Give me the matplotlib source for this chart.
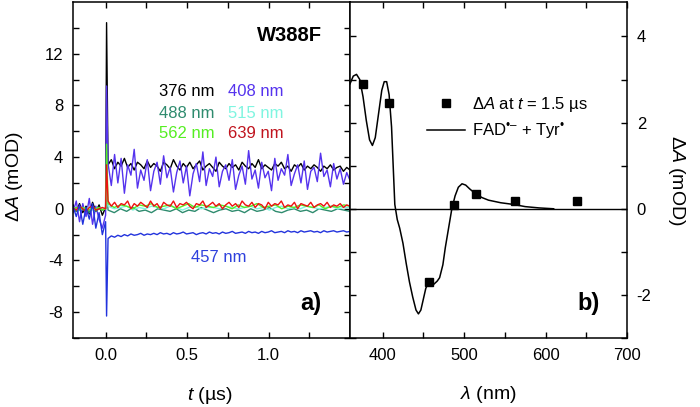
import numpy as np
import matplotlib
matplotlib.use("Agg")
import matplotlib.pyplot as plt
from matplotlib.lines import Line2D

plt.rcParams['font.family'] = ['Liberation Sans', 'DejaVu Sans']
plt.rcParams['mathtext.fontset'] = 'custom'
plt.rcParams['mathtext.rm'] = 'Liberation Sans'
plt.rcParams['mathtext.it'] = 'Liberation Sans:italic'
plt.rcParams['mathtext.bf'] = 'Liberation Sans:bold'
plt.rcParams['axes.unicode_minus'] = False

# ---- panel a) : kinetic traces (pre-trigger, spike, post-trigger) ----
a376_pre = [0.3, -0.2, 0.4, -0.3, 0.2, -0.4, 0.5, -0.2, 0.3, -0.5, 0.1]
a376_peak = 14.4
a376_post = [3.4, 3.8, 3.1, 3.6, 3.3, 3.9, 3.2, 3.5, 3.0, 3.6, 3.4, 3.1, 3.7, 3.2, 3.5, 3.3, 2.9, 3.6, 3.4, 3.1,
             3.8, 3.3, 3.0, 3.5, 3.2, 3.6, 3.1, 3.4, 3.7, 3.0, 3.3, 3.5, 3.2, 2.9, 3.6, 3.3, 3.1, 3.5, 3.2, 3.4,
             3.0, 3.6, 3.3, 3.1, 3.5, 3.2, 3.8, 3.1, 3.4, 3.2, 3.0, 3.5, 3.3, 3.6, 3.1, 3.3, 2.9, 3.4, 3.2, 3.5,
             3.0, 3.3, 3.1, 3.4, 3.2, 2.9, 3.3, 3.1, 3.4, 3.0, 3.2, 3.3, 2.9, 3.2, 3.0]

a408_pre = [-0.3, 0.6, -1.0, 0.4, -0.6, 0.8, -1.2, 0.2, -0.8, -1.5, -0.5]
a408_peak = 9.5
a408_post = [3.5, 1.8, 4.2, 2.0, 3.9, 1.2, 3.4, 2.6, 4.6, 1.6, 3.0, 2.2, 3.8, 1.4, 2.9, 3.6, 1.9, 4.1, 2.4, 3.2,
             1.3, 2.8, 3.7, 2.0, 3.3, 1.0, 2.7, 3.5, 2.1, 4.4, 1.8, 3.1, 2.5, 4.0, 1.7, 2.9, 3.4, 2.2, 3.8, 1.5,
             2.6, 3.3, 1.9, 4.5, 2.3, 3.0, 1.6, 3.6, 2.4, 2.9, 1.4, 3.9, 2.2, 3.1, 2.6, 4.2, 1.8, 2.7, 3.4, 2.0,
             3.7, 1.5, 2.9, 3.2, 2.1, 4.3, 2.5, 3.0, 1.7, 3.5, 2.3, 3.1, 1.9, 2.8, 2.2]

a488_pre = [0.0, -0.2, 0.1, -0.1, 0.0, -0.3, 0.1, -0.2, 0.0, -0.1, 0.0]
a488_peak = 1.5
a488_post = [-0.1, -0.3, 0.0, -0.2, 0.1, -0.2, -0.1, -0.3, 0.0, -0.1, -0.2, 0.0, -0.3, -0.1, -0.2, 0.1, -0.1,
             -0.3, -0.1, 0.0, -0.2, -0.1, -0.3, 0.0, -0.2, -0.1, 0.1, -0.2, -0.3, -0.1, 0.0, -0.2, -0.1, -0.3,
             0.0, -0.1, -0.2, 0.0, -0.1, -0.2]

a515_pre = [0.1, 0.0, -0.1, 0.1, 0.0, 0.1, -0.1, 0.0, 0.1, 0.0, 0.0]
a515_peak = 2.0
a515_post = [0.2, 0.0, 0.1, 0.2, -0.1, 0.1, 0.0, 0.2, 0.1, 0.0, 0.2, 0.1, -0.1, 0.1, 0.2, 0.0, 0.1, 0.1, 0.0,
             0.2, 0.1, 0.0, 0.1, 0.2, 0.0, 0.1, -0.1, 0.1, 0.2, 0.0, 0.1, 0.0, 0.2, 0.1, 0.0, 0.1, 0.2, 0.0,
             0.1, 0.1]

a562_pre = [0.0, 0.1, -0.1, 0.1, 0.0, -0.1, 0.1, 0.0, 0.1, -0.1, 0.0]
a562_peak = 5.0
a562_post = [0.4, 0.1, 0.3, 0.2, 0.0, 0.3, 0.2, 0.4, 0.1, 0.2, 0.3, 0.0, 0.2, 0.4, 0.1, 0.3, 0.2, 0.1, 0.3,
             0.2, 0.0, 0.3, 0.1, 0.2, 0.4, 0.1, 0.2, 0.3, 0.0, 0.2, 0.1, 0.3, 0.2, 0.1, 0.3, 0.0, 0.2, 0.1,
             0.3, 0.2]

a639_pre = [0.1, -0.1, 0.2, 0.0, -0.2, 0.1, 0.2, -0.1, 0.0, 0.1, 0.0]
a639_peak = 3.4
a639_post = [0.6, 0.2, 0.5, 0.1, 0.4, 0.3, 0.6, 0.0, 0.4, 0.2, 0.5, 0.3, 0.1, 0.6, 0.2, 0.4, 0.0, 0.5, 0.3, 0.2,
             0.6, 0.1, 0.4, 0.3, 0.5, 0.2, 0.0, 0.4, 0.3, 0.6, 0.1, 0.3, 0.5, 0.2, 0.4, 0.0, 0.3, 0.5, 0.2, 0.4,
             0.1, 0.6, 0.3, 0.2, 0.5, 0.1, 0.4, 0.3, 0.0, 0.5, 0.2, 0.4, 0.3, 0.6, 0.1, 0.3, 0.2, 0.5, 0.0, 0.4,
             0.3, 0.2, 0.5, 0.1, 0.3, 0.4, 0.2, 0.5, 0.1, 0.3, 0.2, 0.4, 0.1, 0.3, 0.2]

a457_pre = [0.2, -0.6, 0.3, -1.2, 0.1, -0.8, 0.4, -1.5, -0.3, -2.0, -1.0]
a457_peak = -8.3
a457_post = [-2.3, -2.1, -2.2, -2.05, -2.15, -2.0, -2.1, -1.95, -2.05, -2.0, -1.9, -2.05, -1.95, -2.0, -1.9,
             -2.0, -1.85, -1.95, -1.9, -2.0, -1.85, -1.95, -1.9, -1.8, -1.95, -1.9, -1.85, -2.0, -1.9, -1.85,
             -1.95, -1.8, -1.9, -1.85, -1.95, -1.8, -1.9, -1.85, -1.75, -1.9, -1.85, -1.8, -1.9, -1.75, -1.85,
             -1.8, -1.9, -1.75, -1.85, -1.8, -1.7, -1.85, -1.8, -1.75, -1.85, -1.7, -1.8, -1.75, -1.85, -1.7,
             -1.8, -1.75, -1.7, -1.8, -1.75, -1.85, -1.7, -1.8, -1.75, -1.7, -1.8, -1.75, -1.7, -1.8, -1.75]

trace_labels = ["376 nm", "408 nm", "488 nm", "515 nm", "562 nm", "639 nm", "457 nm"]
trace_colors = ["#000000", "#5533ee", "#2e8b6e", "#7ff5e0", "#55ee22", "#ee1111", "#2233dd"]
text_colors = ["#000000", "#5533ee", "#2e8b6e", "#7ff5e0", "#55ee22", "#c0141e", "#2e40dd"]

# ---- panel b) : spectrum at 1.5 us and reference spectrum ----
wl_pts = [376, 408, 457, 488, 515, 562, 639]
dA_pts = [2.9, 2.45, -1.7, 0.08, 0.35, 0.18, 0.18]

wl_ref = [360, 364, 368, 372, 376, 380, 384, 387.5, 391, 395, 399, 402, 405, 408, 411, 413, 415, 418, 421,
          425, 429, 433, 437, 441, 444, 447, 450, 453, 456.5, 460, 463, 467, 470, 474, 477, 481, 485, 489,
          493, 497.5, 502, 507, 514, 522, 530, 545, 561, 575, 592, 610]
dA_ref = [2.9, 3.08, 3.12, 3.0, 2.6, 2.05, 1.6, 1.47, 1.65, 2.2, 2.75, 2.95, 2.95, 2.65, 1.9, 1.0, 0.1, -0.25,
          -0.45, -0.8, -1.27, -1.7, -2.05, -2.35, -2.44, -2.35, -2.1, -1.85, -1.7, -1.7, -1.75, -1.68, -1.6,
          -1.3, -0.9, -0.45, 0.0, 0.3, 0.5, 0.58, 0.55, 0.46, 0.35, 0.26, 0.2, 0.14, 0.1, 0.05, 0.02, 0.0]


def build_trace(pre, peak, post):
    t = np.concatenate([np.linspace(-0.2, 0.0, len(pre)), [0.006], np.linspace(0.015, 1.5, len(post))])
    y = np.concatenate([pre, [peak], post])
    return t, y


def style_axis(ax):
    ax.tick_params(which='both', direction='in', top=True, bottom=True, left=True, right=True,
                   labelsize=12, width=1.0, length=4.5, pad=7)
    for s in ax.spines.values():
        s.set_linewidth(1.1)


fig = plt.figure(figsize=(7, 4.07), dpi=100)
ax1 = fig.add_axes([0.1043, 0.1695, 0.3957, 0.8256])
ax2 = fig.add_axes([0.5, 0.1695, 0.3957, 0.8256])

traces = [(a376_pre, a376_peak, a376_post), (a408_pre, a408_peak, a408_post),
          (a488_pre, a488_peak, a488_post), (a515_pre, a515_peak, a515_post),
          (a562_pre, a562_peak, a562_post), (a639_pre, a639_peak, a639_post),
          (a457_pre, a457_peak, a457_post)]
for (pre, peak, post), col in zip(traces, trace_colors):
    t, y = build_trace(pre, peak, post)
    ax1.plot(t, y, color=col, lw=1.0)

ax1.set_xlim(-0.2, 1.5)
ax1.set_ylim(-10, 16)
ax1.set_xticks([0.0, 0.5, 1.0])
ax1.set_xticklabels(["0.0", "0.5", "1.0"])
ax1.set_xticks(np.arange(0.0, 1.5, 0.25), minor=True)
ax1.set_yticks([-8, -4, 0, 4, 8, 12])
ax1.set_yticks(np.arange(-10, 16, 2), minor=True)
style_axis(ax1)
ax1.set_xlabel(r"$\mathit{t}$ (µs)", fontsize=14, va='center')
ax1.xaxis.set_label_coords(0.495, -0.17)
ax1.set_ylabel(r"$\Delta\mathit{A}$ (mOD)", fontsize=14)
ax1.yaxis.label.set_verticalalignment('center')
ax1.yaxis.set_label_coords(-0.212, 0.48)

# wavelength labels in panel a
label_pos = [(0.326, 9.1), (0.754, 9.1), (0.326, 7.4), (0.754, 7.4), (0.326, 5.85), (0.754, 5.85), (0.527, -3.8)]
for (x, y), lab, col in zip(label_pos, trace_labels, text_colors):
    ax1.text(x, y, lab, color=col, fontsize=12, ha='left', va='center')
ax1.text(1.33, 13.4, "W388F", fontsize=14.5, fontweight='bold', ha='right', va='center')
ax1.text(1.325, -7.36, "a)", fontsize=17, fontweight='bold', ha='right', va='center')

# panel b
ax2.axhline(0, color='black', lw=1.0)
ax2.plot(wl_ref, dA_ref, color='black', lw=1.1)
ax2.plot(wl_pts, dA_pts, 's', color='black', ms=6)
ax2.set_xlim(360, 700)
ax2.set_ylim(-3, 4.8)
ax2.set_xticks([400, 500, 600, 700])
ax2.set_xticks(np.arange(400, 701, 50), minor=True)
ax2.set_yticks([-2, 0, 2, 4])
ax2.set_yticks(np.arange(-3, 5, 1), minor=True)
style_axis(ax2)
ax2.tick_params(labelleft=False, labelright=True)
ax2.set_xlabel(r"$\lambda$ (nm)", fontsize=14, va='center')
ax2.xaxis.set_label_coords(0.498, -0.167)
ax2.yaxis.set_label_position('right')
ax2.set_ylabel(r"$\Delta\mathit{A}$ (mOD)", fontsize=14, rotation=-90)
ax2.yaxis.label.set_verticalalignment('center')
ax2.yaxis.set_label_coords(1.18, 0.47)
ax2.text(666, -2.19, "b)", fontsize=17, fontweight='bold', ha='right', va='center')

handles = [Line2D([], [], marker='s', ls='none', color='black', ms=6),
           Line2D([], [], color='black', lw=1.1)]
labels = [r"$\Delta\mathit{A}$ at $\mathit{t}$ = 1.5 µs", "FAD$^{\u2022\u2013}$ + Tyr$^{\u2022}$"]
ax2.legend(handles, labels, frameon=False, fontsize=12, loc='upper left',
           bbox_to_anchor=(0.278, 0.724), borderpad=0, borderaxespad=0,
           handlelength=2.3, handletextpad=0.4, labelspacing=0.4)

fig.savefig("out.png", dpi=100)
